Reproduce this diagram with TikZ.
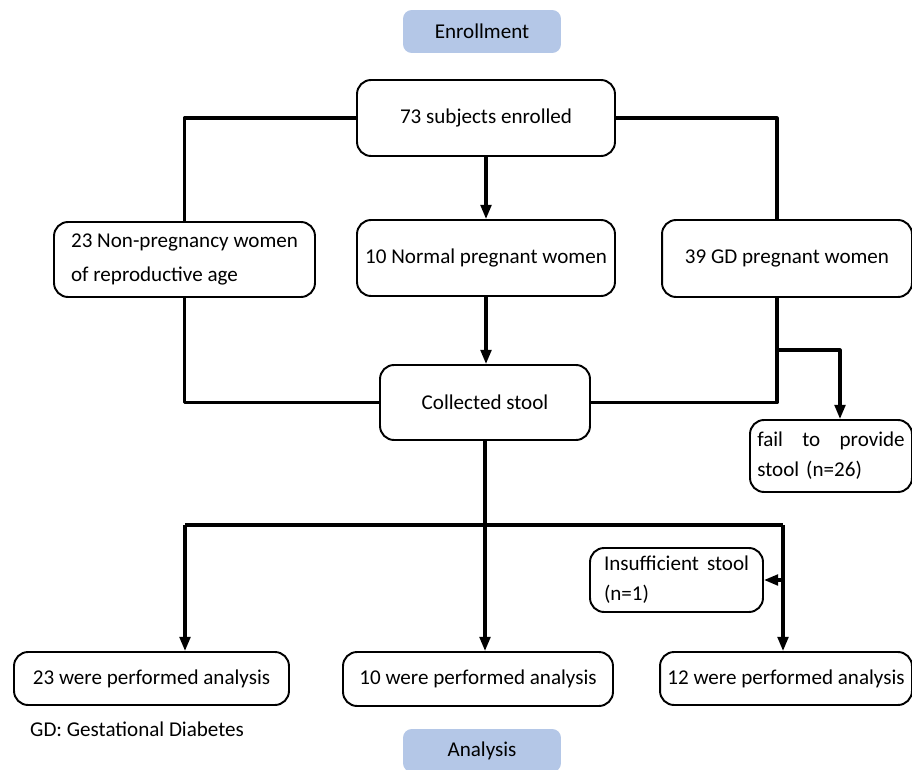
\documentclass[tikz,border=0pt]{standalone}
\usepackage{fontspec}
\setmainfont{Carlito}
\usetikzlibrary{arrows.meta}
\definecolor{stageblue}{HTML}{B4C7E7}
\tikzset{
  box/.style={draw, line width=1.1pt, rounded corners=8pt, align=center, inner sep=3pt},
  stage/.style={fill=stageblue, rounded corners=5pt, minimum width=3.16cm, minimum height=0.86cm},
  link/.style={line width=1.8pt}
}
\begin{document}
\begin{tikzpicture}[x=0.02cm, y=-0.02cm, font=\large, line join=round, >={Triangle[length=8pt,width=6pt]}]
	\useasboundingbox (0,0) rectangle (912,770);
	\node[stage] (enroll) at (482,31.5) {Enrollment};
	\node[box, minimum width=5.16cm, minimum height=1.52cm] (subj) at (486,118) {73 subjects enrolled};
	\node[box, minimum width=5.22cm, minimum height=1.5cm, align=left] (nonpreg) at (184.5,259.5) {23 Non-pregnancy women\\[5pt]of reproductive age};
	\node[box, minimum width=5.16cm, minimum height=1.52cm] (normal) at (486,258) {10 Normal pregnant women};
	\node[box, minimum width=5.0cm, minimum height=1.54cm] (gd) at (787,258.5) {39 GD pregnant women};
	\node[box, minimum width=4.2cm, minimum height=1.5cm] (stool) at (485,402.5) {Collected stool};
	\node[box, minimum width=3.24cm, minimum height=1.44cm, align=left, text width=2.95cm] (fail) at (831,456) {fail\hfill to\hfill provide\\[3pt]stool (n=26)};
	\node[box, minimum width=3.46cm, minimum height=1.28cm, align=left, text width=2.9cm] (insuf) at (676.5,580) {Insufficient\hfill stool\\[3pt](n=1)};
	\node[box, minimum width=5.5cm, minimum height=1.06cm] (res23) at (151.5,678.5) {23 were performed analysis};
	\node[box, minimum width=5.4cm, minimum height=1.08cm] (res10) at (478,679) {10 were performed analysis};
	\node[box, minimum width=5.04cm, minimum height=1.06cm] (res12) at (786,678.5) {12 were performed analysis};
	\node[anchor=west] (note) at (24,729) {GD: Gestational Diabetes};
	\node[stage] (analysis) at (482,750.5) {Analysis};
	\coordinate (gdbranch) at (777,350);
	\coordinate (splitl) at (185,525);
	\coordinate (splitr) at (783,525);
	\draw[link] (subj.west) -| (nonpreg.north);
	\draw[link] (subj.east) -| ([xshift=-0.2cm]gd.north);
	\draw[link, ->] (subj.south) -- (normal.north);
	\draw[link] (nonpreg.south) |- (stool.west);
	\draw[link, ->] (normal.south) -- (normal.south |- stool.north);
	\draw[link] ([xshift=-0.2cm]gd.south) |- (stool.east);
	\draw[link, ->] (gdbranch) -| ([xshift=0.18cm]fail.north);
	\draw[link, ->] (stool.south) -- (stool.south |- res10.north);
	\draw[link] (splitl) -- (splitr);
	\draw[link, ->] (splitl) -- (splitl |- res23.north);
	\draw[link, ->] (splitr) -- (splitr |- res12.north);
	\draw[link, ->] (splitr |- insuf.east) -- (insuf.east);
\end{tikzpicture}
\end{document}
